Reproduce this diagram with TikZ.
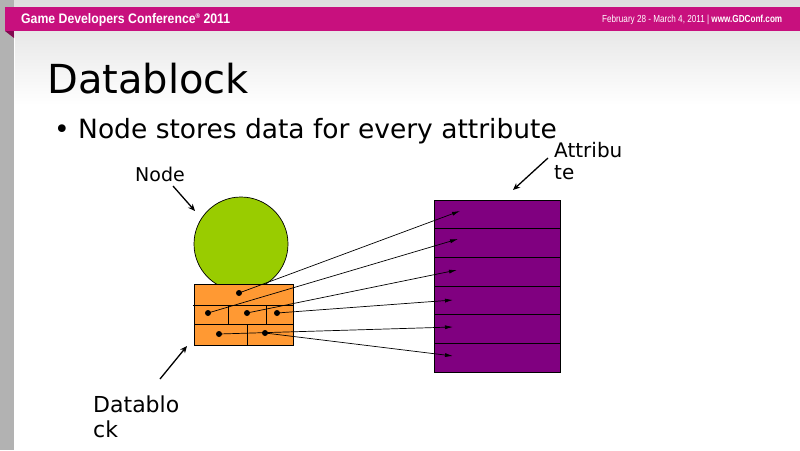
\documentclass[tikz,border=0pt]{standalone}
\usepackage{fontspec}
\setmainfont{DejaVu Sans}
\newfontfamily\hdrfont{Liberation Sans}
\usetikzlibrary{arrows.meta}
\definecolor{gdcpink}{RGB}{200,16,126}
\definecolor{gdcfold}{RGB}{130,10,80}
\definecolor{nodegreen}{RGB}{153,204,0}
\definecolor{blockorange}{RGB}{255,153,51}
\definecolor{attrpurple}{RGB}{128,0,128}
\tikzset{
  txt/.style={inner sep=0pt, anchor=base west, text=black},
  labelarrow/.style={-{Stealth[length=7pt,width=6pt]}, line width=1.3pt, black},
  link/.style={-{Latex[length=8pt,width=4pt]}, line width=0.7pt, black},
  dotnode/.style={circle, fill=black, inner sep=0pt, minimum size=6pt},
  attrrow/.style={rectangle, draw=black, line width=0.7pt, fill=attrpurple, inner sep=0pt, minimum width=126pt, minimum height=28.67pt},
  cellline/.style={line width=0.7pt, black}
}
\begin{document}
\begin{tikzpicture}[x=1pt,y=-1pt]
\useasboundingbox (0,0) rectangle (800,450);
\fill[white] (0,0) rectangle (800,450);
% top background shading
\shade[top color=black!13, bottom color=white] (14,0) rectangle (800,105);
% left strip
\fill[black!30] (0,0) rectangle (14,450);
\draw[white, line width=1pt] (14.5,31) -- (14.5,450);
% header band
\fill[gdcpink] (5,7) rectangle (800,31);
\fill[gdcfold] (5,31) -- (14,31) -- (14,38) -- cycle;
\node[txt, text=white] (hdrL) at (21,23.5)
  {\resizebox{209pt}{10pt}{\hdrfont\bfseries Game Developers Conference\raisebox{0.35em}{\scalebox{0.5}{®}} 2011}};
\node[txt, text=white] (hdrR) at (602,22)
  {\resizebox{180pt}{7.4pt}{\hdrfont February 28 - March 4, 2011 \smash{\textbar} \textbf{www.GDConf.com}}};
% title and bullet
\node[txt] (title) at (47,93) {\fontsize{40}{48}\selectfont Datablock};
\node[txt] (bullet) at (54,138) {\fontsize{26.5}{31}\selectfont •};
\node[txt] (body) at (78,138) {\fontsize{26.5}{31}\selectfont Node stores data for every attribute};
% labels
\node[txt] (nodelbl) at (135,181) {\fontsize{19}{23}\selectfont Node};
\node[txt] (attrA) at (554,157) {\fontsize{20}{24}\selectfont Attribu};
\node[txt] (attrB) at (554,179) {\fontsize{20}{24}\selectfont te};
\node[txt] (dbA) at (93,412) {\fontsize{22}{26}\selectfont Datablo};
\node[txt] (dbB) at (93,437) {\fontsize{22}{26}\selectfont ck};
% node circle
\node[circle, draw=black, line width=0.7pt, fill=nodegreen, minimum size=94pt, inner sep=0pt] (circ) at (241,244) {};
% datablock
\node[rectangle, draw=black, line width=0.7pt, fill=blockorange, minimum width=99pt, minimum height=61pt, inner sep=0pt] (blk) at (243.5,314.5) {};
\draw[cellline] (193,305) -- (293,305);
\draw[cellline] (194,324) -- (293,324);
\draw[cellline] (228,305) -- (228,324);
\draw[cellline] (266,305) -- (266,324);
\draw[cellline] (247,324) -- (247,345);
% attribute block rows
\foreach \i in {1,...,6} {
  \node[attrrow] (row\i) at (497,{200+28.67*(\i-0.5)}) {};
}
% dots
\node[dotnode] (d1) at (239,293) {};
\node[dotnode] (d2) at (208,313) {};
\node[dotnode] (d3) at (247,313) {};
\node[dotnode] (d4) at (277,313) {};
\node[dotnode] (d5) at (219,334) {};
\node[dotnode] (d6) at (265,333) {};
% targets
\coordinate (t1) at (460,211);
\coordinate (t2) at (458,239);
\coordinate (t3) at (457,270);
\coordinate (t4) at (453,300);
\coordinate (t5) at (453,327);
\coordinate (t6) at (453,356);
\draw[link] (d1.center) -- (t1);
\draw[link] (d2.center) -- (t2);
\draw[link] (d3.center) -- (t3);
\draw[link] (d4.center) -- (t4);
\draw[link] (d5.center) -- (t5);
\draw[link] (d6.center) -- (t6);
% label arrows
\coordinate (na) at (173,186);
\coordinate (nb) at (195,211);
\draw[labelarrow] (na) -- (nb);
\coordinate (aa) at (548,158);
\coordinate (ab) at (513,190);
\draw[labelarrow] (aa) -- (ab);
\coordinate (ba) at (160,379);
\coordinate (bb) at (187,346);
\draw[labelarrow] (ba) -- (bb);
\end{tikzpicture}
\end{document}
